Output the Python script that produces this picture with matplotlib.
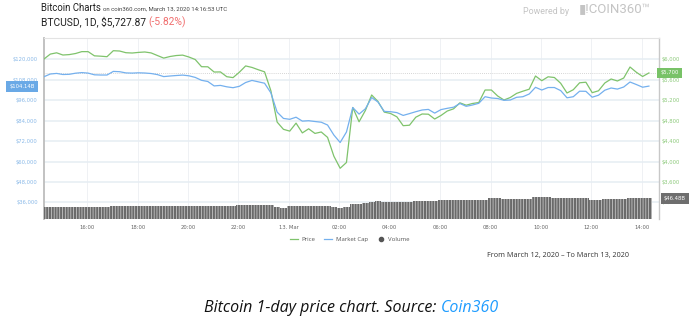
import matplotlib
matplotlib.use("Agg")
import matplotlib.pyplot as plt
import matplotlib.dates as mdates
from matplotlib.lines import Line2D
from matplotlib.ticker import FuncFormatter
from matplotlib.transforms import blended_transform_factory
import pandas as pd

# BTC price in USD, 15 minute steps from 2020-03-12 14:17 UTC
price = [
    6000, 6096, 6121, 6078, 6086, 6107, 6144, 6144, 6062, 6055,
    6045, 6162, 6156, 6123, 6117, 6129, 6137, 6119, 6068, 6018,
    6049, 6068, 6076, 6039, 5990, 5850, 5848, 5746, 5748, 5655,
    5637, 5742, 5865, 5836, 5791, 5750, 5383, 4769, 4628, 4593,
    4749, 4558, 4638, 4548, 4576, 4471, 4104, 3868, 3981, 5054,
    4775, 4995, 5298, 5171, 4964, 4937, 4872, 4699, 4708, 4864,
    4927, 4923, 4829, 4898, 4985, 5028, 5145, 5099, 5132, 5151,
    5395, 5395, 5278, 5200, 5249, 5329, 5372, 5411, 5668, 5577,
    5653, 5639, 5526, 5337, 5401, 5536, 5547, 5343, 5380, 5532,
    5610, 5571, 5629, 5844, 5742, 5659, 5728,
]

# market cap, billions USD
market_cap = [
    109.64, 111.22, 111.57, 110.93, 111.04, 111.69, 112.04, 111.75, 110.75, 110.63,
    110.63, 112.74, 112.57, 111.86, 111.75, 111.92, 111.80, 111.51, 110.87, 109.70,
    110.05, 110.34, 110.58, 110.17, 109.23, 107.53, 106.83, 104.25, 104.55, 103.73,
    103.20, 104.02, 106.24, 107.47, 106.65, 105.83, 100.21, 88.91, 85.22, 84.70,
    85.93, 83.64, 83.88, 83.41, 83.00, 81.36, 75.51, 71.12, 77.27, 91.61,
    87.74, 90.85, 97.46, 94.83, 89.33, 89.15, 88.62, 86.98, 88.04, 89.15,
    90.15, 90.50, 88.33, 90.38, 91.14, 91.78, 93.95, 92.31, 93.07, 94.07,
    97.93, 97.17, 96.88, 95.82, 96.00, 97.58, 97.93, 99.51, 103.43, 101.85,
    103.31, 103.31, 101.50, 97.29, 97.93, 101.15, 101.09, 97.64, 98.81, 101.74,
    103.03, 102.39, 103.61, 106.54, 105.07, 103.49, 104.14,
]

# 24h volume, billions USD
volume = [
    27.9, 28.0, 27.9, 27.8, 27.9, 28.0, 28.1, 28.0, 27.9, 28.0, 28.2,
    30.2, 30.3, 30.2, 30.1, 30.2, 30.3, 30.2, 30.0,
    29.5, 29.6, 29.5, 29.4, 29.5, 29.6, 29.5, 29.5, 29.4, 29.6, 29.5, 29.7,
    31.7, 31.8, 31.7, 31.6, 31.5, 30.8,
    26.0, 25.6,
    28.5, 29.5, 29.6, 29.5, 29.4, 29.5, 29.2,
    27.5, 25.6, 26.5,
    34.0, 35.0, 37.0, 39.0, 40.0,
    37.8, 37.8, 37.9, 37.8, 38.0,
    40.8, 40.8, 40.9, 40.8,
    43.0, 43.0, 43.1, 43.0, 42.9, 43.0, 43.2,
    44.0,
    47.0, 47.0,
    45.3, 45.3, 45.4, 45.3, 45.5,
    50.6, 50.6, 50.4,
    47.0, 47.0, 46.9, 47.0, 47.0, 47.1,
    43.0, 43.2,
    45.3, 45.3, 45.4, 45.3,
    47.0, 47.0, 46.5, 46.48,
]

price_ticks = [3200, 3600, 4000, 4400, 4800, 5200, 5600, 6000]
cap_ticks = [36, 48, 60, 72, 84, 96, 108, 120]

GREEN = "#7fc36c"
BLUE = "#74b0ee"
GREY = "#6a6a6a"
W, H = 696, 322

start = pd.Timestamp("2020-03-12 14:17")
times = pd.date_range(start, periods=len(price), freq="15min")

plt.rcParams["hatch.linewidth"] = 0.5
fig = plt.figure(figsize=(W / 100, H / 100), dpi=100)
ax = fig.add_axes([44 / W, 1 - 219 / H, 615 / W, 181 / H])
ax2 = ax.twinx()

ax.plot(times, price, color=GREEN, lw=0.9, zorder=3)
ax.axhline(price[-1], color="#c8c8c8", lw=0.6, ls=(0, (1, 1.5)), zorder=2)
ax.set_ylim(2878, 6410)
ax.set_xlim(start, start + pd.Timedelta(hours=24, minutes=24))
ax.set_yticks(price_ticks)
ax.yaxis.set_major_formatter(FuncFormatter(lambda v, p: f"${v:,.0f}"))
ax.yaxis.tick_right()
ax.tick_params(axis="y", length=0, labelsize=3.8, labelcolor="#8cc97a", pad=2)

ax.xaxis.set_major_locator(mdates.HourLocator(byhour=range(0, 24, 2)))
ax.xaxis.set_major_formatter(FuncFormatter(
    lambda v, p: "13. Mar" if mdates.num2date(v).hour == 0 else mdates.num2date(v).strftime("%H:%M")))
ax.tick_params(axis="x", length=0, labelsize=3.8, labelcolor="#666666", pad=4)
ax.grid(axis="y", color="#e6edf3", lw=1.1)
ax.grid(axis="x", color="#eff1f4", lw=0.7)
ax.set_axisbelow(True)
ax.spines["left"].set_color("#bdbdbd")
ax.spines["left"].set_linewidth(1.3)
ax.spines["right"].set_color("#c8c8c8")
ax.spines["right"].set_linewidth(1.0)
ax.spines["top"].set_color("#e3e3e3")
ax.spines["top"].set_linewidth(0.8)
ax.spines["bottom"].set_visible(False)

ax2.plot(times, market_cap, color=BLUE, lw=0.9)
ax2.set_ylim(120 - (6000 - 2878) * 0.03, 120 + (6410 - 6000) * 0.03)
ax2.set_yticks(cap_ticks)
ax2.yaxis.set_major_formatter(FuncFormatter(lambda v, p: f"${v * 1000:,.0f}"))
ax2.yaxis.tick_left()
ax2.tick_params(axis="y", length=0, labelsize=3.8, labelcolor="#8ab9e8", pad=4.5)
for s in ax2.spines.values():
    s.set_visible(False)

vol = ax.inset_axes([0, 0, 1, 0.22])
vol.bar(times, volume, width=15 / 1440, facecolor=GREY, edgecolor="#d6d6d6",
        hatch="||||||", linewidth=0)
vol.set_xlim(ax.get_xlim())
vol.set_ylim(0, 90)
vol.axis("off")

box_l = blended_transform_factory(ax2.transAxes, ax2.transData)
ax2.text(-0.0358, market_cap[-1], "$104.14B", transform=box_l, ha="center", va="center",
         fontsize=3.8, color="white", clip_on=False,
         bbox=dict(boxstyle="square,pad=0.55", fc="#6aa9e6", ec="none"))
box_r = blended_transform_factory(ax.transAxes, ax.transData)
ax.text(1.0171, price[-1], "$5,700", transform=box_r, ha="center", va="center",
        fontsize=3.8, color="white", clip_on=False, zorder=5,
        bbox=dict(boxstyle="square,pad=0.55", fc="#78c267", ec="none"))
box_v = blended_transform_factory(vol.transAxes, vol.transData)
vol.text(1.026, volume[-1], "$46.48B", transform=box_v, ha="center", va="center",
         fontsize=3.8, color="white", clip_on=False,
         bbox=dict(boxstyle="square,pad=0.55", fc="#6e6e6e", ec="none"))

handles = [
    Line2D([], [], color=GREEN, lw=0.9),
    Line2D([], [], color=BLUE, lw=0.9),
    Line2D([], [], color="#555555", marker="o", ls="none", markersize=3),
]
fig.legend(handles, ["Price", "Market Cap", "Volume"], loc="center",
           bbox_to_anchor=(350 / W, 1 - 239 / H), ncol=3, frameon=False,
           handlelength=1.3, columnspacing=1.5, handletextpad=0.6,
           labelcolor="#555555", prop={"family": "Open Sans", "size": 4.3})

# header
renderer = fig.canvas.get_renderer()
h = fig.text(41 / W, 1 - 11 / H, "Bitcoin Charts", fontsize=6.9, family="Roboto",
             color="#222222", va="baseline")
hx = h.get_window_extent(renderer).x1
fig.text((hx + 2) / W, 1 - 11 / H, "on coin360.com, March 13, 2020 14:16:53 UTC", fontsize=4.3,
         family="Roboto", color="#444444", va="baseline")
t = fig.text(41 / W, 1 - 25 / H, "BTCUSD, 1D, $5,727.87 ", fontsize=7.4, family="Roboto",
             color="#222222", va="baseline")
x1 = t.get_window_extent(renderer).x1
fig.text(x1 / W, 1 - 25 / H, "(-5.82%)", fontsize=7.4, family="Roboto", color="#f06e6e",
         va="baseline")
fig.text(523 / W, 1 - 13.5 / H, "Powered by", fontsize=6.4, family="Roboto",
         color="#c4c4c4", va="baseline")
fig.text(579 / W, 1 - 13.5 / H, "▮!COIN360™", fontsize=9.5, family=["Roboto", "DejaVu Sans"],
         color="#c4c4c4", va="baseline")

fig.text(487 / W, 1 - 255 / H, "From March 12, 2020 – To March 13, 2020", fontsize=5.25,
         family="Open Sans", color="#333333", va="center")

c = fig.text(204 / W, 1 - 308 / H, "Bitcoin 1-day price chart. Source: ", fontsize=11.5,
             family="Open Sans", style="italic", color="#111111", va="center")
cx = c.get_window_extent(renderer).x1
fig.text(cx / W, 1 - 308 / H, "Coin360", fontsize=11.5, family="Open Sans", style="italic",
         color="#1e9cff", va="center")

fig.savefig("out.png", dpi=100)
